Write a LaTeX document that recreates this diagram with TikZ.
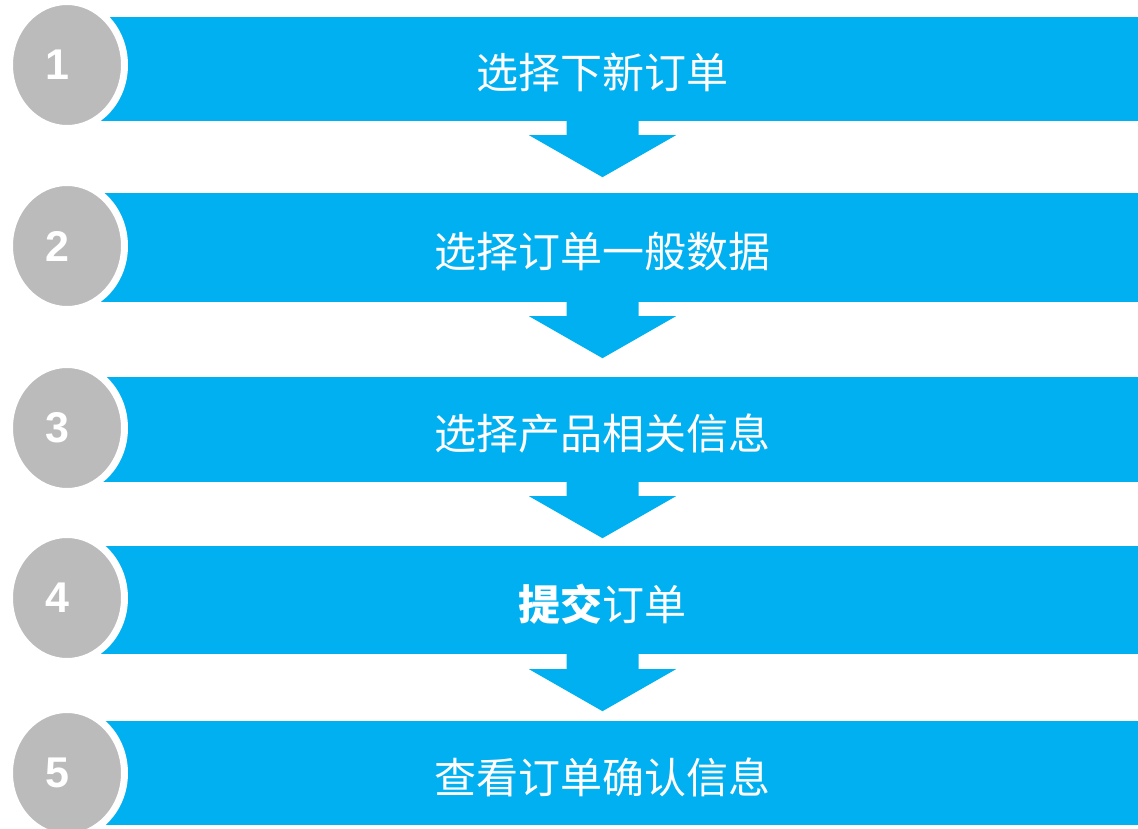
\documentclass[tikz,border=0pt]{standalone}
\usepackage{fontspec}
\setmainfont{Liberation Sans}
\newfontfamily\cjk{Noto Sans CJK SC}
\usetikzlibrary{calc,positioning,shapes.geometric}
\definecolor{barblue}{HTML}{00B0F0}
\definecolor{ballgrey}{HTML}{BBBBBB}
\begin{document}
\begin{tikzpicture}[x=1pt,y=-1pt]
 \tikzstyle{bar}=[rectangle,fill=barblue,inner sep=0,minimum width=1071pt,text height=40pt,text depth=0pt,text=white,font=\cjk\fontsize{42}{48}\selectfont]
 \tikzstyle{ball}=[ellipse,fill=ballgrey,draw=white,line width=7pt,inner sep=0,minimum width=115pt,minimum height=127pt]
 \tikzstyle{num}=[inner sep=0,text=white,font=\bfseries\fontsize{43}{48}\selectfont]
 \tikzstyle{down}=[fill=barblue]
  \useasboundingbox (0,0) rectangle (1138,829);
  \node[bar,minimum height=104pt] (S1) at (602.5,69) {选择下新订单};
  \node[bar,minimum height=109pt] (S2) at (602.5,247.5) {选择订单一般数据};
  \node[bar,minimum height=105pt] (S3) at (602.5,429.5) {选择产品相关信息};
  \node[bar,minimum height=108pt] (S4) at (602.5,600) {{\bfseries 提交}订单};
  \node[bar,minimum height=104pt] (S5) at (602.5,773) {查看订单确认信息};
  % arrows from one step down to the next
\fill[down] (S1.south) ++(-36,0) -- ++(72,0) -- ++(0,14) -- ++(37.5,0) -- ++(-73.5,42) -- ++(-73.5,-42) -- ++(37.5,0) -- cycle;
\fill[down] (S2.south) ++(-36,0) -- ++(72,0) -- ++(0,14) -- ++(37.5,0) -- ++(-73.5,42) -- ++(-73.5,-42) -- ++(37.5,0) -- cycle;
\fill[down] (S3.south) ++(-36,0) -- ++(72,0) -- ++(0,14) -- ++(37.5,0) -- ++(-73.5,42) -- ++(-73.5,-42) -- ++(37.5,0) -- cycle;
\fill[down] (S4.south) ++(-36,0) -- ++(72,0) -- ++(0,15) -- ++(37.5,0) -- ++(-73.5,42) -- ++(-73.5,-42) -- ++(37.5,0) -- cycle;
  % numbered balls
  \node[ball] (B1) at (67,65) {};
  \node[ball] (B2) at (67,246) {};
  \node[ball] (B3) at (67,428) {};
  \node[ball] (B4) at (67,598) {};
  \node[ball] (B5) at (67,773) {};
  \node[num] (N1) at ([xshift=-10pt]B1.center) {1};
  \node[num] (N2) at ([xshift=-10pt]B2.center) {2};
  \node[num] (N3) at ([xshift=-10pt]B3.center) {3};
  \node[num] (N4) at ([xshift=-10pt]B4.center) {4};
  \node[num] (N5) at ([xshift=-10pt]B5.center) {5};
\end{tikzpicture}
\end{document}
